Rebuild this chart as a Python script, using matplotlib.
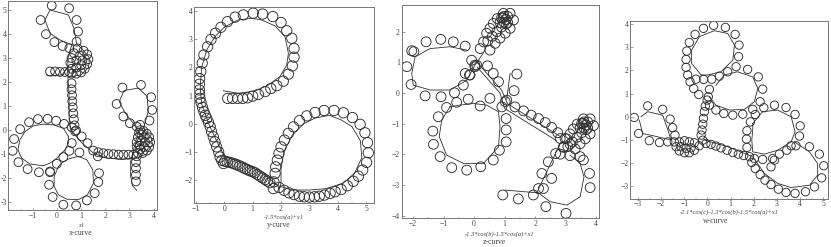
import numpy as np
import matplotlib
matplotlib.use("Agg")
import matplotlib.pyplot as plt
from matplotlib.ticker import MultipleLocator

plt.rcParams['font.family'] = ['Liberation Serif', 'DejaVu Serif']
W, H = 831, 247
INK = '#2e2e2e'
N = (np.nan, np.nan)

x_loops = [
 (3.27,-2.13),(3.27,-1.86),(3.27,-1.58),(3.27,-1.33),(3.30,-1.09),
 (3.35,-0.95),(3.55,-0.95),(3.72,-0.85),(3.82,-0.7),(3.86,-0.5),(3.82,-0.3),(3.72,-0.15),(3.58,-0.03),(3.45,0.0),
 (3.4,-0.1),(3.35,-0.3),(3.3,-0.5),(3.3,-0.7),(3.45,-0.8),(3.6,-0.7),(3.65,-0.5),(3.6,-0.3),(3.5,-0.2),(3.45,-0.45),(3.42,-0.65),
 (3.44,.22),(3.83,.40),(3.94,.84),(3.9,1.37),(3.48,1.88),(2.71,1.77),(2.47,1.09),(2.75,.57),(3.02,.29),(3.3,.15),
 (3.16,-1.02),(2.96,-1.02),(2.75,-1.02),(2.55,-1.02),(2.34,-1.0),(2.13,-.99),(1.92,-.96),(1.71,-.92),(1.50,-.85),
 (1.26,-.54),(1.02,-.26),(.79,-.01),
 (-1.84,-.86),(-1.78,-.37),(-1.53,.04),(-1.16,.33),(-.79,.46),(-.39,.47),(-.04,.39),(.29,.26),(.61,.12),
 (-1.6,-1.33),(-1.22,-1.62),(-.75,-1.75),(-.29,-1.75),(-.01,-1.4),(.26,-1.12),(.51,-.86),(.61,-.54),
 (.93,-.93),(1.69,-1.09),(1.74,-1.79),(1.71,-2.16),(1.56,-2.62),(1.24,-2.92),(.79,-3.13),(.26,-3.1),(-.18,-2.78),(-.33,-2.27),(-.29,-1.72),
 (-.68,4.58),(-.22,5.18),(.5,5.07),(.81,4.58),(.87,4.1),(.81,3.68),(-.46,3.99),(-.11,3.66),(.23,3.5),(.51,3.41),
 (0.6,2.35),(.8,2.35),(1.0,2.4),(1.15,2.55),(1.25,2.75),(1.3,2.95),(1.25,3.15),(1.1,3.3),(.85,3.4),(.7,3.2),(.6,3.0),(.55,2.8),(.6,2.55),(.8,2.6),(1.0,2.7),(1.05,2.9),(.95,3.1),(.8,2.9),
 (-.29,2.44),(-.08,2.44),(.12,2.42),(.33,2.42),(.5,2.42),
 (.6,1.95),(.6,1.7),(.62,1.45),(.63,1.2),(.65,.95),(.67,.7),(.7,.45),(.72,.2),(.75,-.05),
]
x_line = [
 (3.3,-2.5),(3.12,-2.3),(3.05,-1.9),(3.05,-1.3),(3.2,-.7),(3.45,-.2),(3.16,.29),(2.82,.71),(2.58,1.19),(2.78,1.65),(3.37,1.75),(3.74,1.4),(3.78,.78),(3.58,.08),
 (3.9,-.3),(3.95,-.6),(3.7,-1.0),(3.3,-1.15),(2.7,-1.22),(2.0,-1.15),(1.5,-.95),(1.0,-.5),(.55,.05),(.5,.5),(.5,1.5),(.45,2.2),(1.0,2.3),(1.3,2.6),(1.35,3.0),(1.1,3.3),(.81,3.6),(.7,4.24),(.47,4.79),(-.29,5.0),(-.5,4.58),(-.29,4.03),(.12,3.75),(.61,3.55),(.45,3.0),(.45,2.6),(.2,2.3),(-.3,2.25),(-.45,2.3),N,
 (.47,-.26),(.26,.08),(-.15,.22),(-.57,.25),(-.98,.18),(-1.33,-.06),(-1.54,-.40),(-1.62,-.82),(-1.47,-1.16),(-1.12,-1.41),(-.57,-1.48),(-.29,-1.37),(0,-1.16),(.33,-.82),(.47,-.54),(.47,-.26),N,
 (.06,-1.51),(-.12,-1.93),(-.12,-2.34),(.06,-2.69),(.40,-2.87),(.88,-2.89),(1.26,-2.69),(1.51,-2.2),(1.48,-1.65),(1.23,-1.23),(.88,-1.09),(.47,-1.2),(.19,-1.37),(.06,-1.51),
]

y_loops = [
 (.12,.9),(.29,.9),(.47,.9),(.65,.9),(.82,.92),(1,.98),(1.2,1.04),(1.44,1.14),(1.64,1.25),(1.85,1.35),(2.08,1.51),(2.26,1.76),(2.4,2.05),(2.46,2.36),(2.46,2.67),(2.38,3.03),(2.2,3.3),(2,3.59),(1.71,3.8),(1.35,3.89),(1.02,3.92),(.67,3.86),(.38,3.78),(.11,3.62),(-.12,3.42),(-.31,3.21),(-.47,2.99),(-.59,2.73),
 (-.72,2.44),(-.78,2.15),(-.83,1.85),(-.87,1.6),(-.88,1.4),(-.88,1.2),(-.87,1.05),(-.86,.9),(-.82,.75),(-.77,.58),(-.72,.43),(-.67,.3),(-.62,.19),(-.56,.05),(-.5,-.1),(-.45,-.28),(-.39,-.46),(-.33,-.64),(-.27,-.82),(-.2,-1.0),(-.15,-1.18),(-.09,-1.3),(-.03,-1.41),
 (.02,-1.33),(.1,-1.35),(.2,-1.37),(.29,-1.4),(.38,-1.43),(.46,-1.46),(.55,-1.5),(.64,-1.54),(.73,-1.59),(.82,-1.63),(.91,-1.67),(1.0,-1.7),(1.08,-1.74),(1.17,-1.8),(1.26,-1.86),(1.35,-1.92),(1.44,-1.98),(1.52,-2.03),(1.61,-2.09),(1.73,-2.3),(1.93,-2.26),(2.11,-2.36),(2.28,-2.45),(2.46,-2.51),(2.65,-2.57),(2.82,-2.59),(3,-2.6),(3.18,-2.59),(3.35,-2.57),(3.53,-2.53),(3.73,-2.47),(3.91,-2.41),(4.12,-2.33),(4.34,-2.2),(4.55,-2.04),(4.73,-1.86),(4.88,-1.64),(5.02,-1.37),(5.08,-1.03),(5.05,-.67),(4.96,-.32),(4.79,-.02),(4.52,.22),(4.2,.39),(3.87,.47),(3.52,.47),(3.2,.4),(2.91,.28),(2.65,.11),(2.44,-.11),(2.26,-.34),(2.12,-.58),(2,-.82),(1.93,-1.05),(1.87,-1.29),(1.81,-1.53),(1.79,-1.76),(1.75,-2.06),
]
y_line = [
 (-.04,1.17),(.49,1.08),(1.08,1.16),(1.55,1.37),(1.96,1.67),(2.2,2.08),(2.26,2.5),(2.14,3.09),(1.79,3.47),(1.32,3.68),(.96,3.74),(.49,3.68),(.02,3.44),(-.33,3.09),(-.62,2.62),(-.8,2),(-.85,1.3),(-.8,.7),(-.55,0),(-.3,-.55),(0,-1.15),(.4,-1.3),(.9,-1.5),(1.4,-1.8),(1.9,-2.2),(2.4,-2.35),(3,-2.35),(3.6,-2.3),(4.2,-2.1),(4.6,-1.75),(4.85,-1.2),(4.8,-.6),(4.5,-.1),(4.1,.15),(3.7,.3),(3.2,.2),(2.8,0),(2.4,-.4),(2.1,-1),(2,-1.6),(2,-2.1),(1.95,-2.3),
]

z_loops = [
 (.2,1.45),(.31,1.67),(.41,1.95),(.52,2.11),(.63,2.27),(.76,2.43),(.96,2.6),(1.18,2.6),(1.29,2.38),(1.18,2.11),(1.02,1.95),(.85,1.79),(.69,1.62),(.52,1.4),
 (.85,2.3),(.95,2.45),(1.05,2.4),(1.05,2.25),(.9,2.15),(.75,2.0),(.6,1.85),(.45,1.7),(.98,2.5),(1.1,2.5),(1.1,2.3),(.98,2.3),(.9,2.45),
 (2.82,-1.99),(2.93,-1.77),(3.03,-1.49),(3.14,-1.33),(3.25,-1.17),(3.38,-1.01),(3.58,-.84),(3.8,-.84),(3.91,-1.06),(3.8,-1.33),(3.64,-1.49),(3.47,-1.65),(3.31,-1.82),(3.14,-2.04),
 (3.47,-1.14),(3.57,-.99),(3.67,-1.04),(3.67,-1.19),(3.52,-1.29),(3.37,-1.44),(3.22,-1.59),(3.07,-1.74),(3.6,-.94),(3.72,-.94),(3.72,-1.14),(3.6,-1.14),(3.52,-.99),
 (-1.97,1.35),(-1.57,1.67),(-1.09,1.75),(-.68,1.67),(-.29,1.53),(-.08,1.07),(.03,.86),(-2.04,1.38),(-2.2,.86),(-2.06,.28),
 (-1.6,-.09),(-1.08,-.12),(-.64,.01),(-.35,.26),(-.15,.59),(.03,.91),
 (-1.17,-.77),(-1.35,-1.24),(-1.33,-1.67),(-1.11,-2.07),(-.73,-2.43),(-.24,-2.51),(.22,-2.4),(.63,-2.18),(.83,-1.86),(1.05,-1.59),(1.05,-1.2),(1.05,-.83),(.91,-.45),(.52,-.17),(.2,-.42),(-.19,-.2),(-.57,-.3),(-.9,-.47),
 (-.29,.64),(-.13,.59),(.09,.91),(.44,.89),(.63,.64),(.8,.37),(1.02,-.28),(1.34,-.45),(1.62,-.58),(1.87,-.72),(2.11,-.83),(2.33,-.96),(2.54,-1.12),(2.74,-1.29),(2.98,-1.48),
 (1.4,.62),(1.31,.08),(1.07,-.23),
 (3.58,-2.18),(3.78,-2.62),(3.8,-3.08),(3.01,-3.92),(2.35,-3.7),(1.94,-3.32),(1.45,-3.45),(.94,-3.32),(2.27,-3.11),(2.11,-3.11),(2.22,-2.62),(2.54,-2.78),(2.43,-2.24),(2.67,-1.97),(2.93,-1.75),(3.14,-1.66),(2.82,-1.48),(3.47,-2.07),
]
z_line = [
 (-.24,1.4),(-.79,1.51),(-1.44,1.45),(-1.93,1.18),(-2.04,.64),(-1.99,.26),(-1.44,.1),(-.79,.1),(-.24,.42),(.03,.91),(.3,1.3),N,
 (-.79,-.45),(-1.06,-.88),(-1.14,-1.42),(-.9,-2.02),(-.35,-2.29),(.31,-2.29),(.8,-1.75),(.85,-1.1),(.8,-.61),(.41,-.39),(-.02,-.34),(-.46,-.39),(-.79,-.45),N,
 (1.02,-3.16),(1.6,-3.21),(2.11,-3.25),(2.49,-3.54),(3.04,-3.65),(3.47,-3.38),(3.6,-2.73),(3.47,-2.29),(3.14,-2.02),N,
 (2.05,-3.25),(2.82,-1.64),N,(1.18,.64),(1.07,-.2),N,
 (.1,1.0),(.9,.1),(1.1,-.35),(2.8,-1.4),N,(.1,.85),(.85,0),(1.0,-.5),(2.7,-1.55),
]

w_loops = [
 (-3.16,-.03),(-2.97,-.72),(-2.51,-1.03),(-2.07,-1.11),(-1.71,-1.08),(-2.58,.47),(-1.93,.32),(-1.61,-.1),(-1.5,-.47),(-1.4,-.79),
 (-1.43,-1.08),(-1.35,-1.29),(-1.21,-1.47),(-.99,-1.55),(-.78,-1.55),(-.56,-1.44),(-.35,-1.25),(-.2,-1.01),(-1.21,-1.08),(-.99,-1.03),(-.78,-1.08),(-.56,-1.12),(-1.14,-1.29),(-.92,-1.36),(-.71,-1.34),
 (-.27,-.79),(-.23,-.57),(-.2,-.32),(-.17,-.07),(-.13,.22),(-.09,.46),(-.01,.72),(.04,.86),(.09,1.18),(-.37,.96),(-.59,1.22),(-.75,1.51),(-.85,1.8),(-.92,2.13),(-.92,2.47),(-.89,2.83),(-.78,3.2),(-.53,3.55),(-.17,3.81),(.27,3.94),(.78,3.85),(1.2,3.55),(1.37,3.09),(1.35,2.59),(1.24,2.16),(.88,1.94),(.52,1.75),(.19,1.62),(-.16,1.61),(-.49,1.62),
 (1.74,2.04),(2.2,1.72),(2.39,1.19),(2.28,.65),(1.96,.32),(1.53,.11),(1.1,.07),(.71,.14),(.37,.29),(.09,.5),
 (2.44,.39),(2.9,.5),(3.4,.4),(3.79,.1),(4.01,-.39),(3.98,-.83),(3.83,-1.25),(3.43,-1.44),(3.11,-1.61),(2.82,-1.8),(2.39,-1.84),(2.03,-1.8),(1.71,-1.32),(1.69,-.96),(1.71,-.6),(1.86,-.22),(2.07,.1),
 (4.41,-1.29),(4.84,-1.61),(5.03,-2.11),(4.94,-2.63),(4.63,-3.02),(4.24,-3.23),(3.79,-3.3),(3.4,-3.26),(3.07,-3.12),(2.75,-2.92),(2.49,-2.73),(2.28,-2.49),(2.07,-2.23),(1.92,-1.97),(2.75,-2.16),(2.9,-1.87),
 (-.06,-1.15),(.16,-1.19),(.37,-1.26),(.59,-1.34),(.85,-1.44),(1.1,-1.54),(1.34,-1.61),(1.57,-1.67),(1.82,-1.72),(3.62,-1.25),
]
w_line = [
 (-2.87,0),(-2.58,.22),(-1.93,.07),(-1.73,-.5),(-1.57,-1.0),(-2.29,-.83),(-2.8,-.72),(-2.94,-.14),N,
 (-.27,1.8),(-.68,2.3),(-.68,2.87),(-.35,3.45),(.3,3.71),(.88,3.59),(1.17,3.09),(1.1,2.44),(.59,1.94),(.01,1.8),(-.27,1.8),N,
 (.37,1.36),(.73,1.8),(1.3,1.94),(1.96,1.72),(2.18,1.22),(2.03,.65),(1.6,.32),(.95,.29),(.37,.5),(.09,.86),N,
 (1.96,-.29),(2.39,.22),(3.04,.29),(3.62,0),(3.79,-.65),(3.62,-1.08),(3.04,-1.44),(2.46,-1.61),(1.96,-1.51),(1.92,-1.01),(1.96,-.57),(1.96,-.29),N,
 (3.76,-1.08),(4.41,-1.51),(4.76,-2.01),(4.77,-2.51),(4.41,-2.95),(3.62,-3.05),(3.04,-2.87),(2.46,-2.44),(1.96,-1.72),(.88,-1.29),(-.13,-1.0),
]

x_ticks = [-1,0,1,2,3,4]; x_yticks = [-3,-2,-1,0,1,2,3,4,5]
y_ticks = [-1,0,1,2,3,4,5]; y_yticks = [-2,-1,0,1,2,3,4]
z_ticks = [-2,-1,0,1,2,3,4]; z_yticks = [-4,-3,-2,-1,0,1,2]
w_ticks = [-3,-2,-1,0,1,2,3,4,5]; w_yticks = [-3,-2,-1,0,1,2,3,4]

fig = plt.figure(figsize=(W/100, H/100), dpi=100)

def px_text(x, y, s, **kw):
    fig.text(x/W, 1-y/H, s, ha='center', va='center', color='#444444', **kw)

def panel(box, xlim, ylim, loops, line, xt, yt, xlabel, lab_pos, caption, cap_pos, ms, short_minus=False):
    l, t, r, b = box
    ax = fig.add_axes([l/W, 1-b/H, (r-l)/W, (b-t)/H])
    ax.set_xlim(xlim); ax.set_ylim(ylim)
    lp = np.array(line, float)
    ax.plot(lp[:,0], lp[:,1], color=INK, lw=0.6)
    lo = np.array(loops, float)
    ax.scatter(lo[:,0], lo[:,1], s=ms, facecolors='none', edgecolors=INK, linewidths=0.65)
    ax.set_xticks(xt); ax.set_yticks(yt)
    if short_minus:
        ax.set_yticklabels([str(v) for v in yt])
    ax.xaxis.set_minor_locator(MultipleLocator(0.5))
    ax.yaxis.set_minor_locator(MultipleLocator(0.5))
    ax.tick_params(which='major', direction='in', length=1.8, width=0.4, color='#555555',
                   labelsize=5.5, labelcolor='#444444', pad=1.2)
    ax.tick_params(which='minor', direction='in', length=1, width=0.3, color='#555555')
    for s in ax.spines.values():
        s.set_color('#777777'); s.set_linewidth(0.7)
    px_text(lab_pos[0], lab_pos[1], xlabel, fontsize=4.6, style='italic')
    px_text(cap_pos[0], cap_pos[1], caption, fontsize=5.6)

panel((8.3,1,156.7,210), (-2.02,4.13), (-3.32,5.37), x_loops, x_line, x_ticks, x_yticks,
      'x1', (81,225), 'x-curve', (81,233), 40, short_minus=True)
panel((194,7,374,203), (-1.07,5.28), (-2.81,4.14), y_loops, y_line, y_ticks, y_yticks,
      '-1.5*cos(a)+x1', (284,217), 'y-curve', (279,224.5), 55)
panel((401.5,5,598.7,218), (-2.375,4.08), (-4.07,2.87), z_loops, z_line, z_ticks, z_yticks,
      '-1.3*cos(b)-1.5*cos(a)+x1', (500,234), 'z-curve', (494,242), 50)
panel((630.3,20.7,827.7,198.7), (-3.33,5.2), (-3.53,4.14), w_loops, w_line, w_ticks, w_yticks,
      '-2.1*cos(c)-1.3*cos(b)-1.5*cos(a)+x1', (729,212), 'w-curve', (716,221), 36)

fig.savefig('out.png', dpi=100)
